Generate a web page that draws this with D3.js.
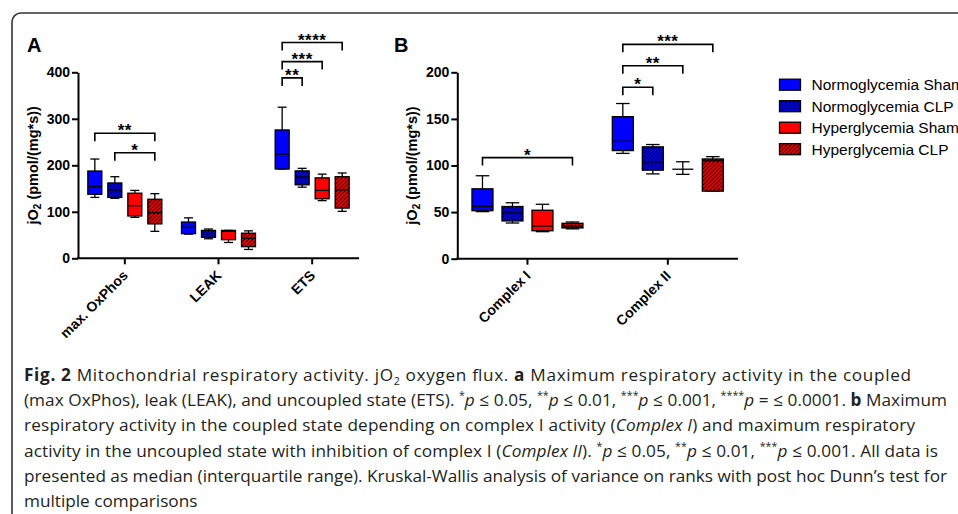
<!DOCTYPE html>
<html>
<head>
<meta charset="utf-8">
<script src="https://cdn.jsdelivr.net/npm/d3@7"></script>
<style>
  body { margin: 0; background: #fff; }
  svg { display: block; }
  .axis text { font-family: "Liberation Sans", Arial, sans-serif; font-weight: bold; font-size: 14px; fill: #000; }
  .axis path, .axis line { stroke: #000; stroke-width: 2; }
</style>
</head>
<body>
<div id="chart"></div>
<script>
// categories
var groupsA = ["max. OxPhos", "LEAK", "ETS"];
var groupsB = ["Complex I", "Complex II"];
var seriesNames = ["Normoglycemia Sham", "Normoglycemia CLP", "Hyperglycemia Sham", "Hyperglycemia CLP"];
var seriesFill = ["#0000ff", "#0000ff", "#ff0000", "#ff0000"];
var seriesHatch = [false, true, false, true];

// box stats [min, q1, median, q3, max], one row per group, one entry per series
var boxesA = [
  [[131, 137.6, 154, 187.7, 213.5], [129, 131, 147, 162, 175.5], [88, 91, 113, 140, 146], [58, 74, 98, 127, 139]],
  [[52, 53, 67, 78, 87], [42, 45, 53, 60, 63], [34, 40, 58, 60, 60], [19, 25, 43, 54, 59]],
  [[192, 192, 224, 276, 325], [153, 158, 175, 188, 193.5], [124, 128, 146, 173, 181], [101, 108, 147, 175.5, 183.5]]
];
var boxesB = [
  [[50.5, 51.5, 56, 75, 89], [38.3, 40.5, 49, 56, 60], [29, 30, 35, 52, 58.4], [32, 33, 35, 38, 39.4]],
  [[113, 116, 126, 152.4, 166.5], [91, 95, 104, 120, 122.5], [90.5, 96, 96, 96, 104], [72.5, 72.5, 105, 107, 109.5]]
];

// significance brackets: [group, from series, to series, value, label]
var bracketsA = [[0, 0, 3, 269, "**"], [0, 1, 3, 227, "*"], [2, 0, 1, 388, "**"], [2, 0, 2, 423, "***"], [2, 0, 3, 464, "****"]];
var bracketsB = [[0, 0, 3, 108.5, "*"], [1, 0, 1, 184, "*"], [1, 0, 2, 207, "**"], [1, 0, 3, 230, "***"]];

var ticksA = [0, 100, 200, 300, 400];
var ticksB = [0, 50, 100, 150, 200];

// caption lines: [text, style]
var captionLines = [
  [["Fig. 2", "b"], [" Mitochondrial respiratory activity. jO"], ["2", "sub"], [" oxygen flux. "], ["a", "b"], [" Maximum respiratory activity in the coupled"]],
  [["(max OxPhos), leak (LEAK), and uncoupled state (ETS). "], ["*", "sup"], ["p", "i"], [" ≤ 0.05, "], ["**", "sup"], ["p", "i"], [" ≤ 0.01, "], ["***", "sup"], ["p", "i"], [" ≤ 0.001, "], ["****", "sup"], ["p", "i"], [" = ≤ 0.0001. "], ["b", "b"], [" Maximum"]],
  [["respiratory activity in the coupled state depending on complex I activity ("], ["Complex I", "i"], [") and maximum respiratory"]],
  [["activity in the uncoupled state with inhibition of complex I ("], ["Complex II", "i"], ["). "], ["*", "sup"], ["p", "i"], [" ≤ 0.05, "], ["**", "sup"], ["p", "i"], [" ≤ 0.01, "], ["***", "sup"], ["p", "i"], [" ≤ 0.001. All data is"]],
  [["presented as median (interquartile range). Kruskal-Wallis analysis of variance on ranks with post hoc Dunn’s test for"]],
  [["multiple comparisons"]]
];
var captionEnds = [911, 947, 915, 938, 947, null];

var W = 958, H = 514;
var svg = d3.select("#chart").append("svg").attr("width", W).attr("height", H);

// hatch patterns
var defs = svg.append("defs");
["#0000ff", "#ff0000"].forEach(function(c, i) {
  var p = defs.append("pattern")
    .attr("id", "hatch" + i)
    .attr("patternUnits", "userSpaceOnUse")
    .attr("width", 4).attr("height", 4);
  p.append("rect").attr("width", 4).attr("height", 4).attr("fill", c);
  p.append("path")
    .attr("d", "M-1,1 L1,-1 M0,4 L4,0 M3,5 L5,3")
    .attr("stroke", "#000").attr("stroke-width", 1.1);
});
function fillFor(si) {
  if (seriesHatch[si]) return "url(#hatch" + (seriesFill[si] == "#0000ff" ? 0 : 1) + ")";
  return seriesFill[si];
}

// frame
svg.append("path")
  .attr("d", "M12,520 L12,22 A9,9 0 0 1 21,13 L965,13")
  .attr("fill", "none").attr("stroke", "#333").attr("stroke-width", 1.6);

function drawPanel(opts) {
  var g = svg.append("g");
  var y = d3.scaleLinear().domain(opts.yDomain).range([opts.bottom, opts.top]);
  var x = d3.scaleBand().domain(opts.groups).range([opts.left, opts.right]).padding(0);
  var inner = d3.scaleBand().domain(d3.range(4)).range([-opts.half, opts.half]).padding(0);
  var bw = inner.bandwidth() * 0.7;
  var cap = inner.bandwidth() * 0.45;
  function cx(gi, si) {
    return x(opts.groups[gi]) + x.bandwidth() / 2 + inner(si) + inner.bandwidth() / 2;
  }

  // axes
  g.append("g").attr("class", "axis")
    .attr("transform", "translate(" + opts.left + ",0)")
    .call(d3.axisLeft(y).tickValues(opts.ticks).tickSize(6).tickSizeOuter(0).tickPadding(2));

  var xa = g.append("g").attr("class", "axis")
    .attr("transform", "translate(0," + opts.bottom + ")")
    .call(d3.axisBottom(x).tickSize(6).tickSizeOuter(0));
  xa.select(".domain").attr("d", "M" + (opts.left - 1) + ",0H" + opts.right);
  xa.selectAll(".tick text")
    .attr("text-anchor", "end")
    .attr("y", 0).attr("dy", 0)
    .attr("transform", "translate(4,18) rotate(-45)");

  // y label
  var yl = g.append("text")
    .attr("transform", "translate(" + opts.labelX + "," + (opts.top + opts.bottom) / 2 + ") rotate(-90)")
    .attr("text-anchor", "middle")
    .style("font-family", "Liberation Sans, Arial, sans-serif")
    .style("font-weight", "bold").style("font-size", "14.5px");
  yl.append("tspan").text("jO");
  yl.append("tspan").attr("dy", 3).style("font-size", "10px").text("2");
  yl.append("tspan").attr("dy", -3).text(" (pmol/(mg*s))");

  // panel letter
  g.append("text").attr("x", opts.letterX).attr("y", 52)
    .style("font-family", "Liberation Sans, Arial, sans-serif")
    .style("font-weight", "bold").style("font-size", "20px")
    .text(opts.letter);

  // boxes
  opts.boxes.forEach(function(row, gi) {
    row.forEach(function(s, si) {
      var c = cx(gi, si);
      var bg = g.append("g");
      bg.append("line").attr("x1", c).attr("x2", c).attr("y1", y(s[0])).attr("y2", y(s[4]))
        .attr("stroke", "#000").attr("stroke-width", 1.3);
      [s[0], s[4]].forEach(function(v) {
        bg.append("line").attr("x1", c - cap / 2).attr("x2", c + cap / 2)
          .attr("y1", y(v)).attr("y2", y(v))
          .attr("stroke", "#000").attr("stroke-width", 1.3);
      });
      bg.append("rect")
        .attr("x", c - bw / 2).attr("width", bw)
        .attr("y", y(s[3])).attr("height", y(s[1]) - y(s[3]))
        .attr("fill", fillFor(si))
        .attr("stroke", "#000").attr("stroke-width", 1.3);
      bg.append("line").attr("x1", c - bw / 2).attr("x2", c + bw / 2)
        .attr("y1", y(s[2])).attr("y2", y(s[2]))
        .attr("stroke", "#000").attr("stroke-width", 1.3);
    });
  });

  // brackets
  opts.brackets.forEach(function(b) {
    var x1 = cx(b[0], b[1]), x2 = cx(b[0], b[2]), yv = y(b[3]);
    g.append("path")
      .attr("d", "M" + x1 + "," + (yv + 8) + "V" + yv + "H" + x2 + "V" + (yv + 8))
      .attr("fill", "none").attr("stroke", "#000").attr("stroke-width", 1.6);
    g.append("text").attr("x", (x1 + x2) / 2).attr("y", yv + 3)
      .attr("text-anchor", "middle")
      .style("font-family", "Liberation Sans, Arial, sans-serif")
      .style("font-weight", "bold").style("font-size", "17px")
      .style("letter-spacing", "0.5px")
      .text(b[4]);
  });
}

drawPanel({
  groups: groupsA, boxes: boxesA, brackets: bracketsA, ticks: ticksA,
  yDomain: [0, 400], top: 72.3, bottom: 258.3, left: 78, right: 359, half: 40,
  labelX: 38, letter: "A", letterX: 27
});
drawPanel({
  groups: groupsB, boxes: boxesB, brackets: bracketsB, ticks: ticksB,
  yDomain: [0, 200], top: 72.3, bottom: 258.7, left: 457.3, right: 738, half: 60,
  labelX: 417, letter: "B", letterX: 394
});

// legend
var leg = svg.append("g");
seriesNames.forEach(function(name, i) {
  var yc = 84.7 + i * 21.5;
  leg.append("rect").attr("x", 779.5).attr("y", yc - 5.5).attr("width", 21).attr("height", 11)
    .attr("fill", fillFor(i)).attr("stroke", "#000").attr("stroke-width", 1.3);
  leg.append("text").attr("x", 811.5).attr("y", yc + 5.4)
    .style("font-family", "Liberation Sans, Arial, sans-serif")
    .style("font-size", "15.5px").style("fill", "#000")
    .text(name);
});

// caption
var cap = svg.append("g")
  .style("font-family", "Open Sans, sans-serif")
  .style("fill", "#231f20");
var baseSize = 17;
var lines = captionLines.map(function(parts, li) {
  var t = cap.append("text").attr("x", 24).attr("y", 381 + li * 25.2)
    .style("font-size", baseSize + "px");
  var shift = 0;
  parts.forEach(function(p) {
    var ts = t.append("tspan").text(p[0]);
    var want = p[1] == "sup" ? -7 : p[1] == "sub" ? 4 : 0;
    if (want != shift) { ts.attr("dy", want - shift); shift = want; }
    if (p[1] == "b") ts.style("font-weight", "bold");
    if (p[1] == "i") ts.style("font-style", "italic");
    if (p[1] == "sup" || p[1] == "sub") ts.style("font-size", "0.62em");
  });
  return t;
});
var w5 = lines[4].node().getComputedTextLength();
var size = baseSize * (captionEnds[4] - 24) / w5;
lines.forEach(function(t, i) {
  t.style("font-size", size + "px");
  if (captionEnds[i]) {
    t.attr("textLength", captionEnds[i] - 24).attr("lengthAdjust", "spacing");
  }
});
</script>
</body>
</html>
